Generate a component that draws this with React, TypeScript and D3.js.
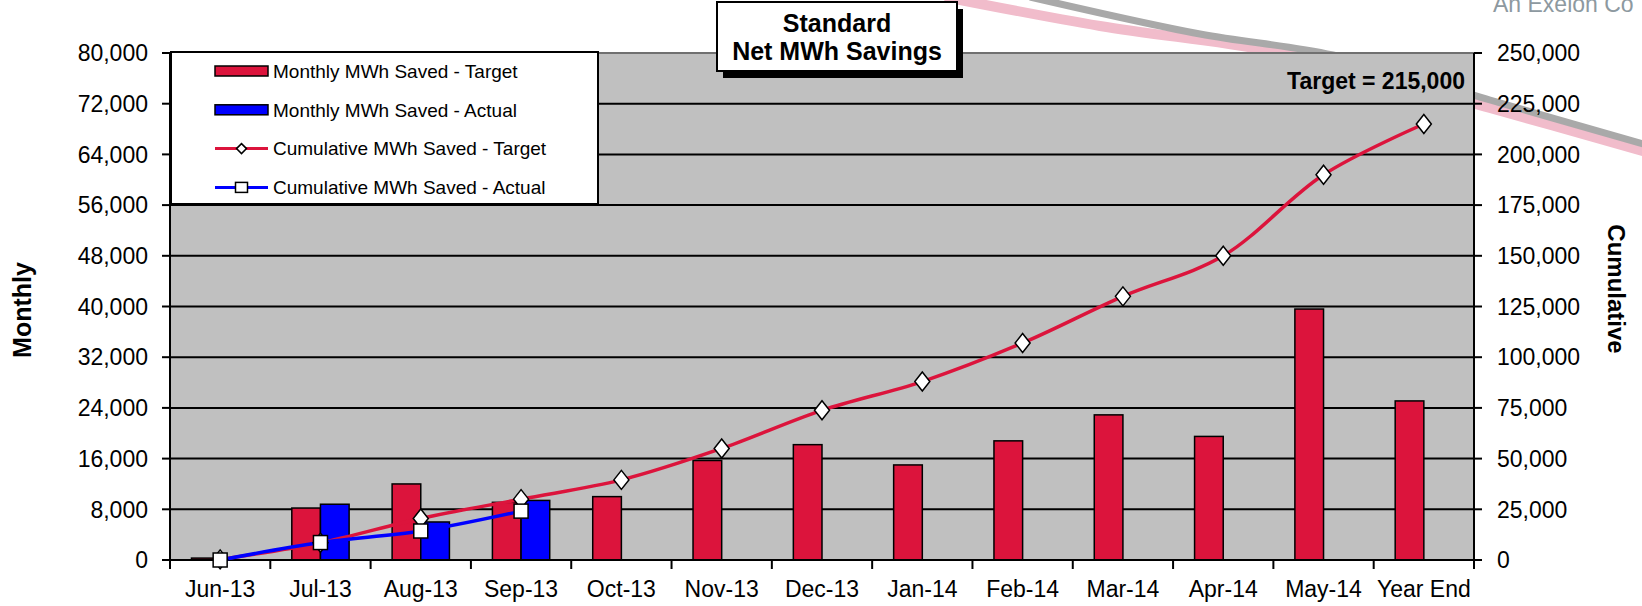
import React from 'react'
import * as d3 from 'd3'

// chart values
const categories = [
  'Jun-13', 'Jul-13', 'Aug-13', 'Sep-13', 'Oct-13', 'Nov-13', 'Dec-13',
  'Jan-14', 'Feb-14', 'Mar-14', 'Apr-14', 'May-14', 'Year End',
]
const monthlyTarget = [300, 8200, 12000, 9100, 10000, 15700, 18200, 15000, 18800, 22900, 19500, 39600, 25100]
const monthlyActual = [0, 8800, 6000, 9400]
const cumulativeTarget = [300, 8500, 20500, 30000, 39500, 55000, 73800, 88000, 107000, 130000, 150000, 190000, 215000]
const cumulativeActual = [0, 8600, 14300, 24100]
const leftTicks = d3.range(0, 80001, 8000)
const rightTicks = d3.range(0, 250001, 25000)

const legendItems = [
  { label: 'Monthly MWh Saved - Target', kind: 'bar', color: '#DC143C' },
  { label: 'Monthly MWh Saved - Actual', kind: 'bar', color: '#0000FF' },
  { label: 'Cumulative MWh Saved - Target', kind: 'diamond', color: '#DC143C' },
  { label: 'Cumulative MWh Saved - Actual', kind: 'square', color: '#0000FF' },
]

// decorative slide swoosh behind the chart
const greySwoosh: [number, number][] = [[1030, -3], [1200, 34], [1333, 55], [1490, 100], [1650, 146]]
const pinkSwoosh: [number, number][] = [[945, -3], [1100, 26], [1293, 55], [1490, 108], [1650, 153]]

const W = 1642
const H = 606
const FONT = '"Liberation Sans", Arial, sans-serif'
const RED = '#DC143C'
const BLUE = '#0000FF'

const plot = { left: 170, right: 1474, top: 53, bottom: 560 }

function Diamond({ cx, cy, w, h }: { cx: number; cy: number; w: number; h: number }) {
  const p = `M${cx},${cy - h / 2}L${cx + w / 2},${cy}L${cx},${cy + h / 2}L${cx - w / 2},${cy}Z`
  return <path d={p} fill="#fff" stroke="#000" strokeWidth={1.5} />
}

export default function App() {
  const x = d3.scaleBand<string>().domain(categories).range([plot.left, plot.right]).padding(0)
  const inner = d3
    .scaleBand<string>()
    .domain(['target', 'actual'])
    .range([0, x.bandwidth()])
    .paddingInner(0)
    .paddingOuter(0.75)
  const yL = d3.scaleLinear().domain([0, 80000]).range([plot.bottom, plot.top])
  const yR = d3.scaleLinear().domain([0, 250000]).range([plot.bottom, plot.top])
  const fmt = d3.format(',')
  const cx = (i: number) => (x(categories[i]) as number) + x.bandwidth() / 2

  const line = d3
    .line<number>()
    .x((_, i) => cx(i))
    .y((d) => yR(d))
    .curve(d3.curveCatmullRom.alpha(0.5))

  const swoosh = d3.line().curve(d3.curveCatmullRom.alpha(0.5))

  const boundaries = categories.map((c) => x(c) as number).concat([plot.right])

  return (
    <svg width={W} height={H} style={{ position: 'absolute', left: 0, top: 0, display: 'block' }} fontFamily={FONT}>
      <rect width={W} height={H} fill="#fff" />

      <path d={swoosh(pinkSwoosh) || ''} fill="none" stroke="#f1bccb" strokeWidth={10} />
      <path d={swoosh(greySwoosh) || ''} fill="none" stroke="#a9a9a9" strokeWidth={7} />
      <text x={1493} y={12} fontSize={23} fill="#8d99a0">An Exelon Co</text>

      {/* plot area */}
      <rect x={plot.left} y={plot.top} width={plot.right - plot.left} height={plot.bottom - plot.top} fill="#C0C0C0" />
      {leftTicks.map((t) => (
        <line key={t} x1={plot.left} x2={plot.right} y1={yL(t)} y2={yL(t)}
          stroke={t === 80000 ? '#707070' : '#000'} strokeWidth={2} />
      ))}

      {/* bars */}
      {monthlyTarget.map((v, i) => (
        <rect key={'t' + i} x={(x(categories[i]) as number) + (inner('target') as number)} y={yL(v)}
          width={inner.bandwidth()} height={plot.bottom - yL(v)} fill={RED} stroke="#000" strokeWidth={1.5} />
      ))}
      {monthlyActual.map((v, i) =>
        v > 0 ? (
          <rect key={'a' + i} x={(x(categories[i]) as number) + (inner('actual') as number)} y={yL(v)}
            width={inner.bandwidth()} height={plot.bottom - yL(v)} fill={BLUE} stroke="#000" strokeWidth={1.5} />
        ) : null
      )}

      {/* axes */}
      <line x1={plot.left} x2={plot.left} y1={plot.top} y2={plot.bottom} stroke="#000" strokeWidth={2} />
      <line x1={plot.right} x2={plot.right} y1={plot.top} y2={plot.bottom + 9} stroke="#000" strokeWidth={2} />
      <line x1={plot.left} x2={plot.right} y1={plot.bottom} y2={plot.bottom} stroke="#000" strokeWidth={2} />
      {leftTicks.map((t) => (
        <g key={'l' + t}>
          <line x1={plot.left - 8} x2={plot.left} y1={yL(t)} y2={yL(t)} stroke="#000" strokeWidth={2} />
          <text x={148} y={yL(t)} dy="0.36em" textAnchor="end" fontSize={23}>{fmt(t)}</text>
        </g>
      ))}
      {rightTicks.map((t) => (
        <g key={'r' + t}>
          <line x1={plot.right} x2={plot.right + 8} y1={yR(t)} y2={yR(t)} stroke="#000" strokeWidth={2} />
          <text x={1497} y={yR(t)} dy="0.36em" textAnchor="start" fontSize={23}>{fmt(t)}</text>
        </g>
      ))}
      {boundaries.map((b, i) => (
        <line key={'b' + i} x1={b} x2={b} y1={plot.bottom} y2={plot.bottom + 9} stroke="#000" strokeWidth={2} />
      ))}
      {categories.map((c, i) => (
        <text key={c} x={cx(i)} y={597} textAnchor="middle" fontSize={23}>{c}</text>
      ))}

      {/* cumulative lines */}
      <path d={line(cumulativeTarget) || ''} fill="none" stroke={RED} strokeWidth={3.5} />
      <path d={line(cumulativeActual) || ''} fill="none" stroke={BLUE} strokeWidth={3.5} />
      {cumulativeTarget.map((v, i) => (
        <Diamond key={'d' + i} cx={cx(i)} cy={yR(v)} w={15} h={19} />
      ))}
      {cumulativeActual.map((v, i) => (
        <rect key={'s' + i} x={cx(i) - 7} y={yR(v) - 7} width={14} height={14} fill="#fff" stroke="#000" strokeWidth={1.5} />
      ))}

      <text x={1465} y={89} textAnchor="end" fontSize={23} fontWeight="bold">Target = 215,000</text>

      {/* legend */}
      <rect x={171} y={52} width={427} height={152} fill="#fff" stroke="#000" strokeWidth={2} />
      {legendItems.map((it, i) => {
        const cy = 71 + i * 38.8
        return (
          <g key={it.label}>
            {it.kind === 'bar' ? (
              <rect x={215} y={cy - 5} width={53} height={10} fill={it.color} stroke="#000" strokeWidth={1.5} />
            ) : (
              <line x1={215} x2={268} y1={cy} y2={cy} stroke={it.color} strokeWidth={3} />
            )}
            {it.kind === 'diamond' && <Diamond cx={241.5} cy={cy} w={10} h={10} />}
            {it.kind === 'square' && (
              <rect x={235.5} y={cy - 5} width={12} height={10} fill="#fff" stroke="#000" strokeWidth={1.5} />
            )}
            <text x={273} y={cy} dy="0.36em" fontSize={19}>{it.label}</text>
          </g>
        )
      })}

      {/* title box */}
      <rect x={723} y={9} width={240} height={69} fill="#000" />
      <rect x={717} y={2} width={240} height={69} fill="#fff" stroke="#000" strokeWidth={2} />
      <text x={837} y={31.5} textAnchor="middle" fontSize={25} fontWeight="bold">Standard</text>
      <text x={837} y={60} textAnchor="middle" fontSize={25} fontWeight="bold">Net MWh Savings</text>

      {/* axis titles */}
      <text transform="translate(31,310) rotate(-90)" textAnchor="middle" fontSize={25} fontWeight="bold">Monthly</text>
      <text transform="translate(1608,289) rotate(90)" textAnchor="middle" fontSize={24} fontWeight="bold">Cumulative</text>
    </svg>
  )
}
